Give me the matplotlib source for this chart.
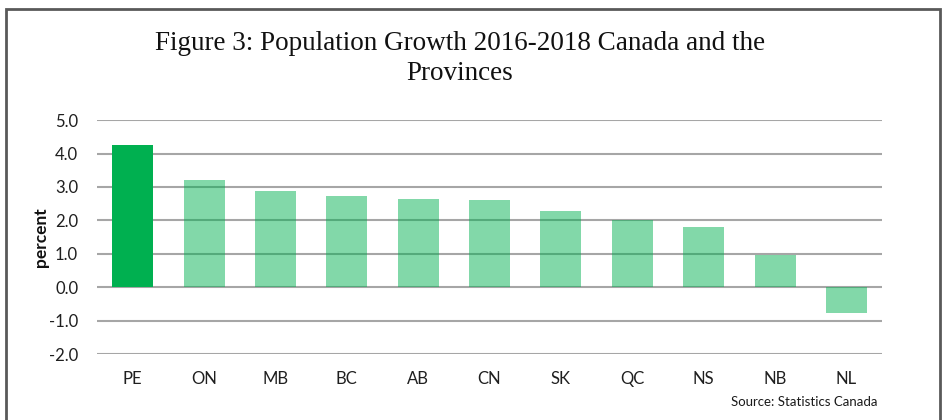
import matplotlib
matplotlib.use("Agg")
import matplotlib.pyplot as plt
from matplotlib.patches import Rectangle

# population growth 2016-2018, percent
regions = ["PE", "ON", "MB", "BC", "AB", "CN", "SK", "QC", "NS", "NB", "NL"]
growth = [4.27, 3.22, 2.89, 2.72, 2.64, 2.62, 2.29, 2.00, 1.81, 0.95, -0.77]
yticks = [-2.0, -1.0, 0.0, 1.0, 2.0, 3.0, 4.0, 5.0]

fig = plt.figure(figsize=(9.46, 4.2), dpi=100)
ax = fig.add_axes([0.1025, 0.157, 0.83, 0.557])

#grid first so it shows through the pale bars
ax.set_axisbelow(True)
ax.yaxis.grid(True, color="#a6a6a6", linewidth=1.5)

colors = ["#00b050"] * len(regions)
alphas = [1.0] + [0.49] * (len(regions) - 1)
bars = ax.bar(regions, growth, width=0.575, color=colors)
for b, a in zip(bars, alphas):
    b.set_alpha(a)

ax.set_ylim(-2, 5)
ax.set_xlim(-0.5, len(regions) - 0.5)
ax.set_yticks(yticks)
ax.set_yticklabels(["%.1f" % t for t in yticks])
for s in ax.spines.values():
    s.set_visible(False)
ax.tick_params(axis="both", length=0, labelsize=12, colors="#1f1f1f")
ax.tick_params(axis="y", pad=13.5)
ax.tick_params(axis="x", pad=12.5)
for lbl in ax.get_xticklabels() + ax.get_yticklabels():
    lbl.set_family("Lato")

ax.set_ylabel("percent", fontsize=12.5, fontweight="bold", family="Lato", color="#111111")
ax.yaxis.set_label_coords(-0.0615, 0.5)

fig.text(0.486, 1 - 50 / 420, "Figure 3: Population Growth 2016-2018 Canada and the",
         ha="center", va="baseline", fontsize=19.5, family="Liberation Serif", color="#111111")
fig.text(0.486, 1 - 80 / 420, "Provinces", ha="center", va="baseline",
         fontsize=19.5, family="Liberation Serif", color="#111111")

fig.text(0.928, 0.043, "Source: Statistics Canada", ha="right", va="center",
         fontsize=9.5, family="Lato", color="#1a1a1a")

#border round the whole figure (bottom edge is cut off)
fig.patches.append(Rectangle((6 / 946, -0.05), 934 / 946, 1.05 - 9 / 420,
                             transform=fig.transFigure, fill=False,
                             edgecolor="#595959", linewidth=2))

fig.savefig("out.png", dpi=100)
